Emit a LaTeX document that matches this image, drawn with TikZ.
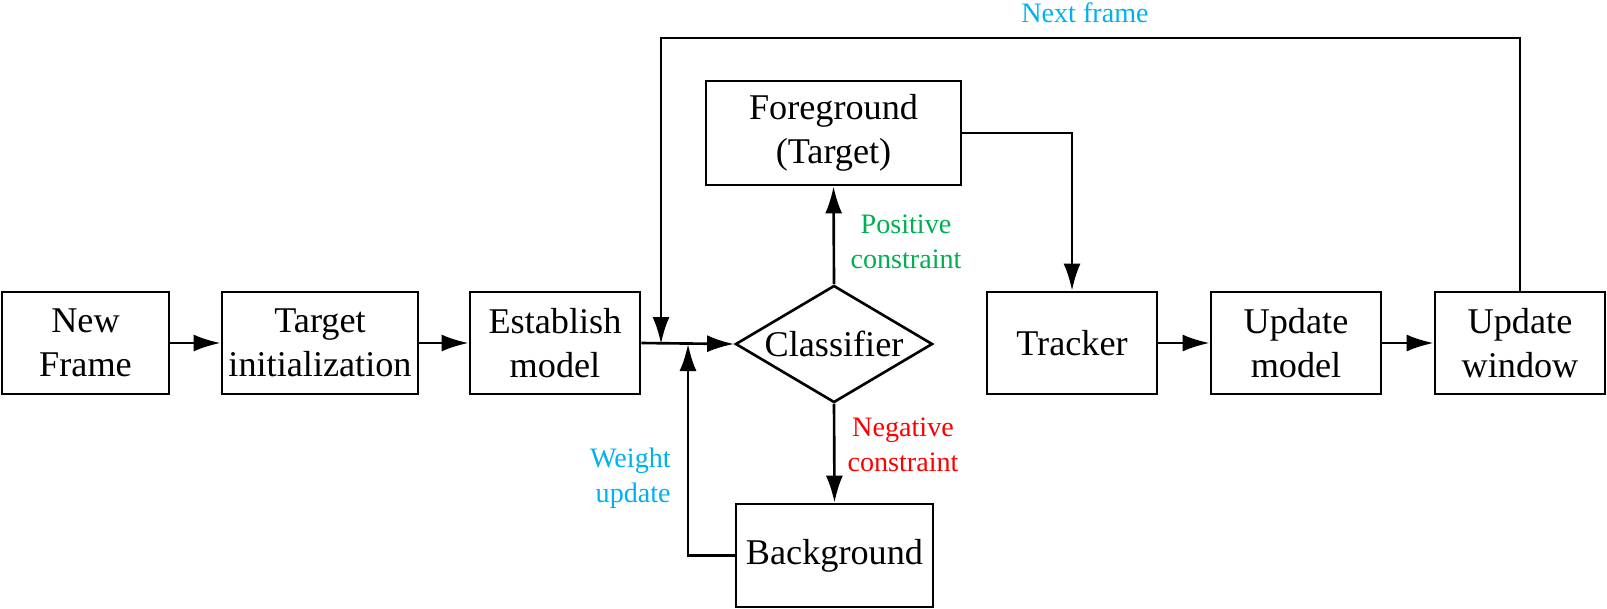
\documentclass[tikz,border=0pt]{standalone}
\usepackage{fontspec}
\setmainfont{Liberation Serif}
\usetikzlibrary{arrows.meta,shapes.geometric}
\definecolor{nxtblue}{RGB}{0,176,240}
\definecolor{posgreen}{RGB}{0,176,80}
\definecolor{negred}{RGB}{255,0,0}

\begin{document}
\begin{tikzpicture}[x=0.01cm,y=-0.01cm,line width=0.75pt,>={Latex[length=2.7mm,width=1.7mm]},
  blk/.style={draw,rectangle,minimum width=1.7cm,minimum height=1.02cm,inner sep=0pt,align=center,font=\fontsize{10.3}{12.6}\selectfont},
  lbl/.style={align=center,inner sep=0pt,font=\fontsize{8}{10}\selectfont}]
\useasboundingbox (0,0) rectangle (1607,608);
\node[blk,minimum width=1.67cm] (frame) at (85.5,343) {New\\Frame};
\node[blk,minimum width=1.96cm] (init) at (320,343) {Target\\initialization};
\node[blk] (model) at (555,343) {Establish\\model};
\node[blk,diamond,minimum width=1.97cm,minimum height=1.17cm,aspect=1.68] (cls) at (834,344) {Classifier};
\node[blk,minimum width=2.55cm,minimum height=1.04cm] (fg) at (833.5,133) {Foreground\\(Target)};
\node[blk,minimum width=1.97cm,minimum height=1.03cm] (bg) at (834.5,555.5) {Background};
\node[blk] (trk) at (1072,343) {Tracker};
\node[blk] (umodel) at (1296,343) {Update\\model};
\node[blk] (uwin) at (1520,343) {Update\\window};
\coordinate (nj) at (661,344);
\coordinate (ntop) at (661,38);
\coordinate (wj) at (688,344);
\draw[->] (frame) -- (init);
\draw[->] (init) -- (model);
\draw[->] (model.east) -- (cls.west);
\draw[->] (cls.north) -- (fg.south);
\draw[->] (cls.south) -- (bg.north);
\draw[->] (bg.west) -| (wj);
\draw[->] (fg.east) -| (trk.north);
\draw[->] (trk) -- (umodel);
\draw[->] (umodel) -- (uwin);
\draw[->] (uwin.north) |- (ntop) -- (nj);
\node[lbl,text=nxtblue] (nxt) at (1085,13) {Next frame};
\node[lbl,text=posgreen] (pos) at (906,242) {Positive\\constraint};
\node[lbl,text=negred] (neg) at (903,445) {Negative\\constraint};
\node[lbl,text=nxtblue,anchor=east,align=right] (wup) at (672,478) {Weight\\update};
\end{tikzpicture}
\end{document}
